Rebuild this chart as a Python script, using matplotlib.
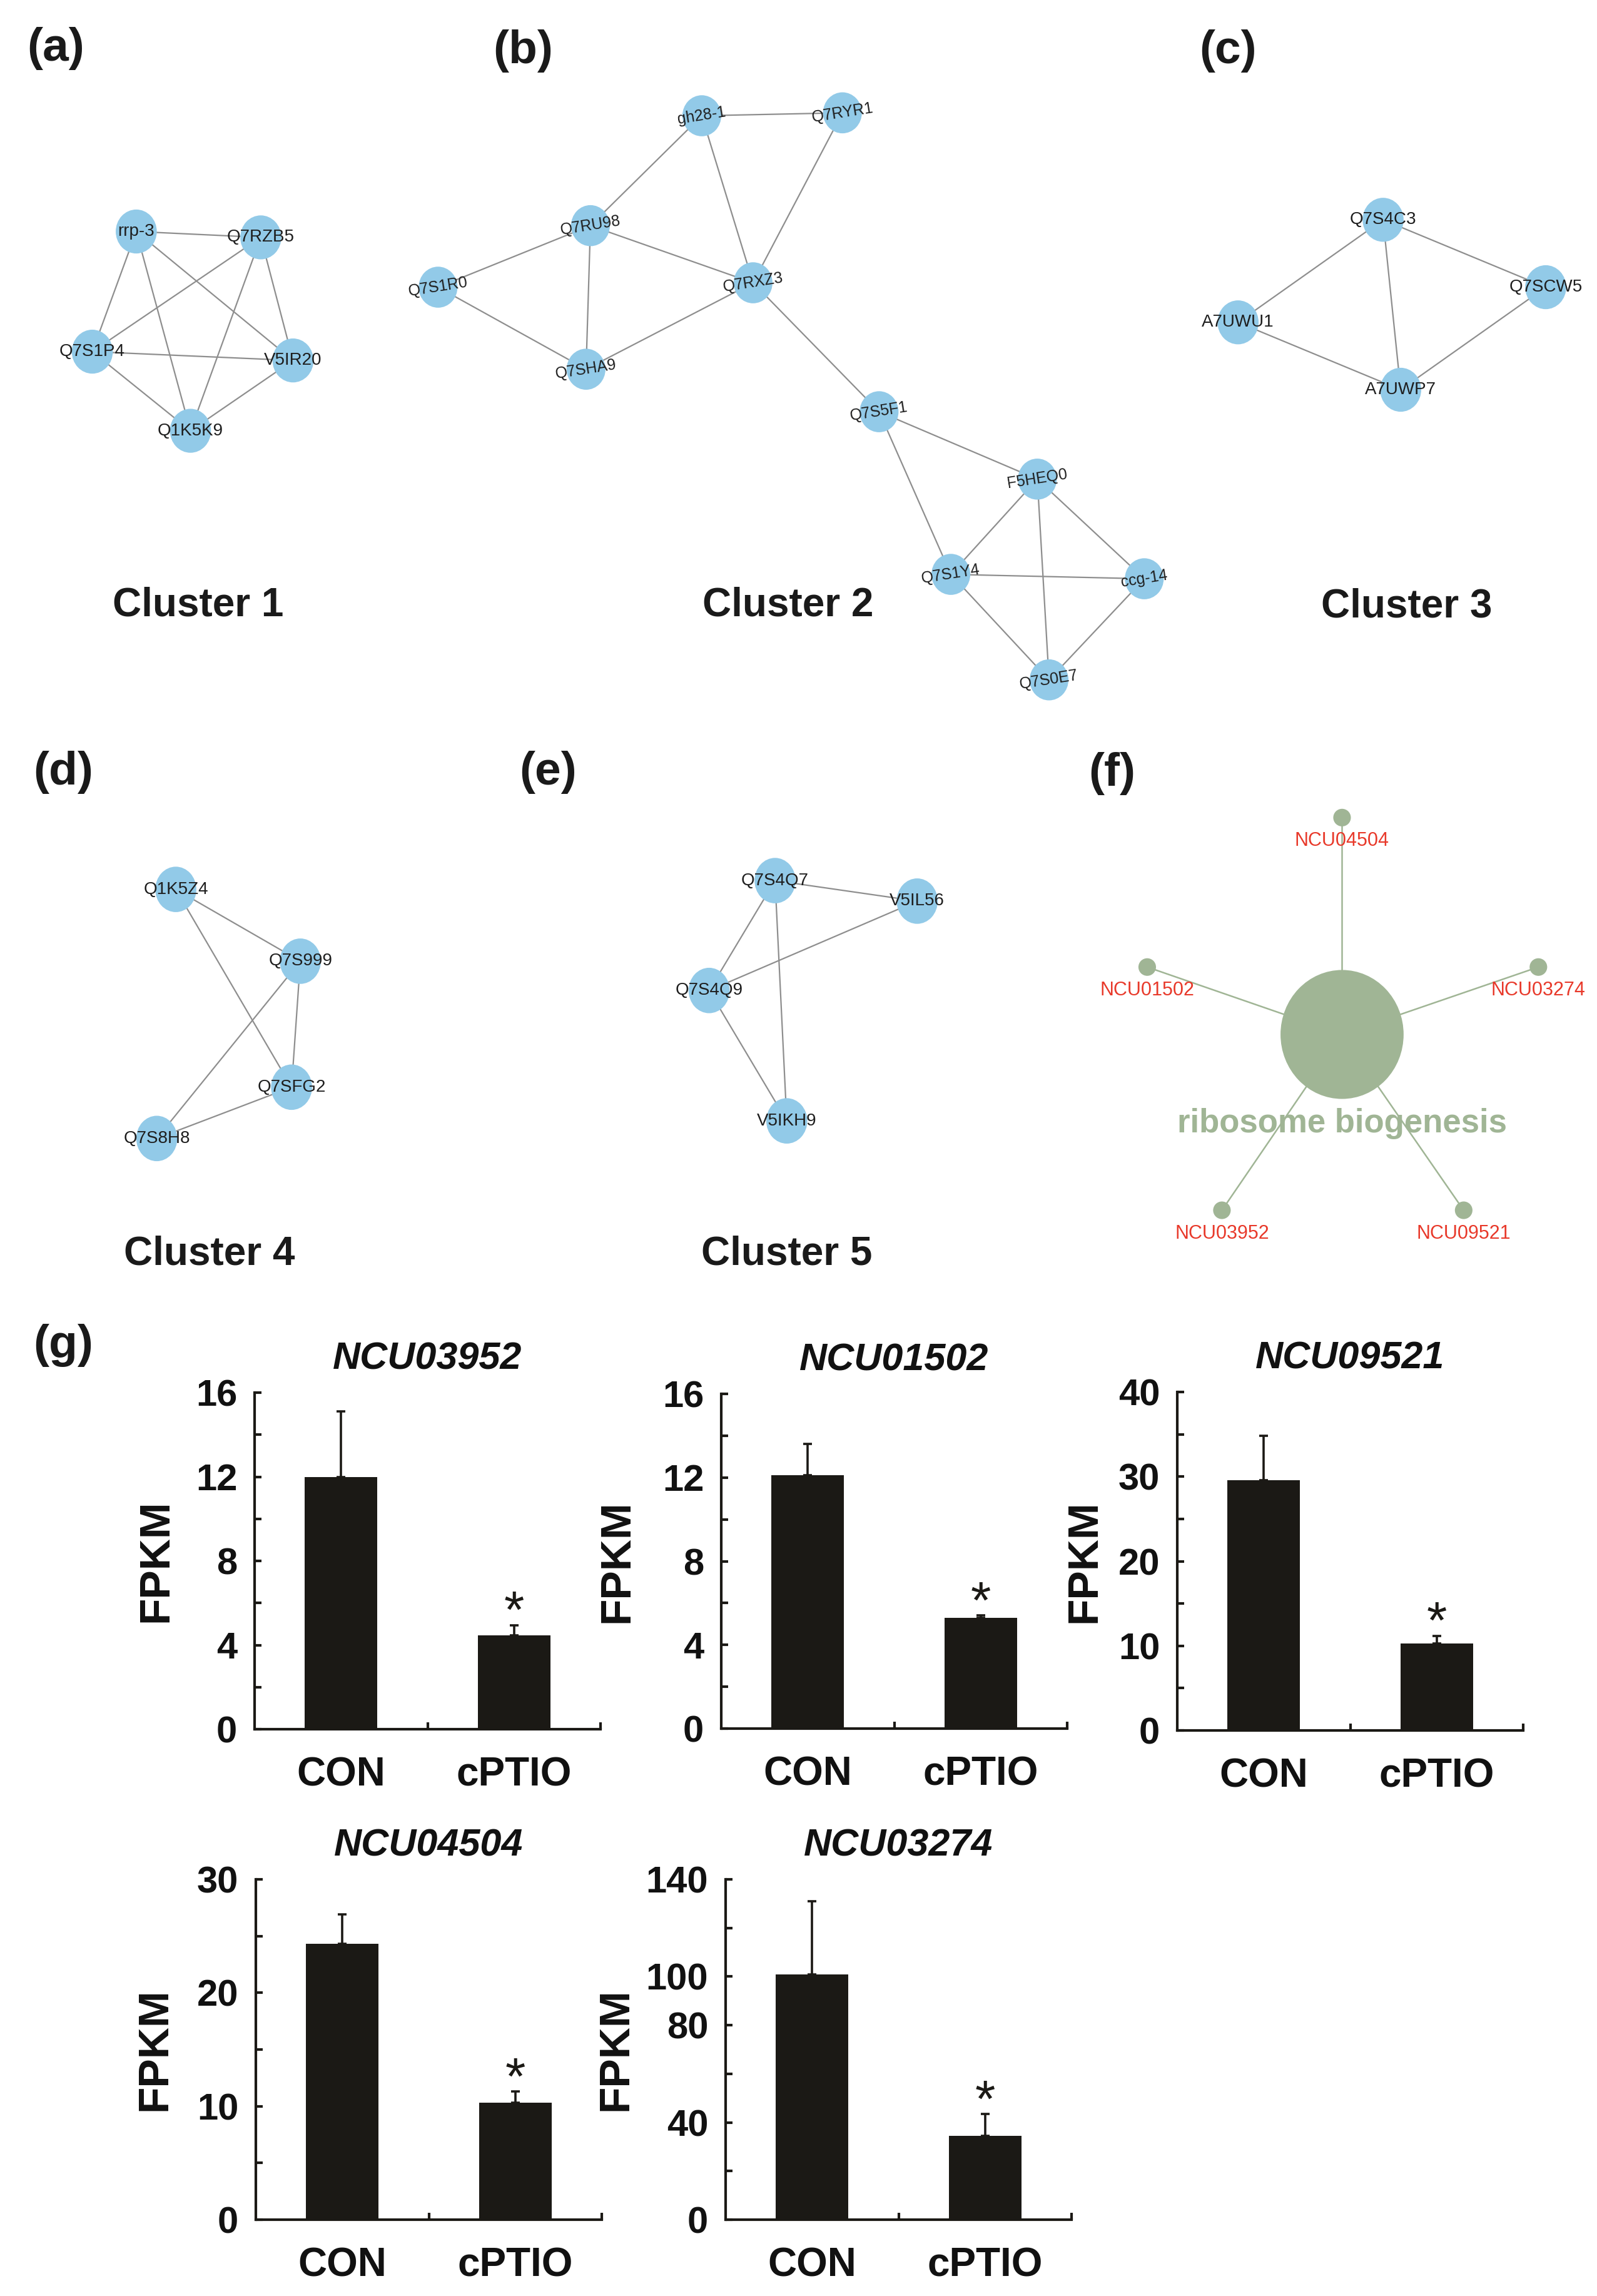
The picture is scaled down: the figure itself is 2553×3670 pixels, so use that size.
import matplotlib
matplotlib.use('Agg')
import matplotlib.pyplot as plt
from matplotlib.patches import Ellipse, Circle

plt.rcParams['font.family'] = ['Liberation Sans', 'DejaVu Sans']

# layout units: the page is 1090 x 1567 units (saved as 2553 x 3670 px)
W, H = 1090, 1567

# ---------------- network clusters (a)-(e) ----------------
c1_nodes = ['rrp-3', 'Q7RZB5', 'Q7S1P4', 'V5IR20', 'Q1K5K9']
c1_x = [93, 178, 63, 200, 130]
c1_y = [158, 162, 240, 246, 294]
c1_edges = [(0, 1), (0, 2), (0, 3), (0, 4), (1, 2), (1, 3), (1, 4), (2, 3), (2, 4), (3, 4)]

c2_nodes = ['gh28-1', 'Q7RYR1', 'Q7RU98', 'Q7S1R0', 'Q7RXZ3', 'Q7SHA9',
            'Q7S5F1', 'F5HEQ0', 'Q7S1Y4', 'ccg-14', 'Q7S0E7']
c2_x = [479, 575, 403, 299, 514, 400, 600, 708, 649, 781, 716]
c2_y = [79, 77, 154, 196, 193, 252, 281, 327, 392, 395, 464]
c2_edges = [(0, 1), (0, 2), (0, 4), (1, 4), (2, 3), (2, 4), (2, 5), (3, 5), (5, 4),
            (4, 6), (6, 7), (6, 8), (7, 8), (7, 9), (7, 10), (8, 9), (8, 10), (9, 10)]

c3_nodes = ['Q7S4C3', 'A7UWU1', 'Q7SCW5', 'A7UWP7']
c3_x = [944, 845, 1055, 956]
c3_y = [150, 220, 196, 266]
c3_edges = [(0, 1), (0, 3), (0, 2), (1, 3), (2, 3)]

c4_nodes = ['Q1K5Z4', 'Q7S999', 'Q7SFG2', 'Q7S8H8']
c4_x = [120, 205, 199, 107]
c4_y = [607, 656, 742, 777]
c4_edges = [(0, 1), (0, 2), (1, 2), (1, 3), (2, 3)]

c5_nodes = ['Q7S4Q7', 'V5IL56', 'Q7S4Q9', 'V5IKH9']
c5_x = [529, 626, 484, 537]
c5_y = [601, 615, 676, 765]
c5_edges = [(0, 1), (0, 2), (0, 3), (2, 1), (2, 3)]

cluster_names = ['Cluster 1', 'Cluster 2', 'Cluster 3', 'Cluster 4', 'Cluster 5']

# ---------------- GO term network (f) ----------------
go_term = 'ribosome biogenesis'
go_hub = (916, 706)
f_genes = ['NCU04504', 'NCU01502', 'NCU03274', 'NCU03952', 'NCU09521']
f_x = [916, 783, 1050, 834, 999]
f_y = [558, 660, 660, 826, 826]

# ---------------- FPKM bar charts (g) ----------------
genes = ['NCU03952', 'NCU01502', 'NCU09521', 'NCU04504', 'NCU03274']
groups = ['CON', 'cPTIO']
con_mean = [12.0, 12.1, 29.6, 24.3, 101.0]
con_err = [3.1, 1.5, 5.2, 2.6, 30.0]
cptio_mean = [4.45, 5.3, 10.3, 10.3, 34.5]
cptio_err = [0.5, 0.1, 0.9, 1.0, 9.0]
y_max = [16, 16, 40, 30, 140]
y_step = [2, 2, 5, 5, 20]
y_labels = [[0, 4, 8, 12, 16], [0, 4, 8, 12, 16], [0, 10, 20, 30, 40],
            [0, 10, 20, 30], [0, 40, 80, 100, 140]]

node_blue = '#92cae8'
edge_grey = '#8e8e8e'
go_green = '#a0b595'
gene_red = '#e8392a'
bar_black = '#1b1915'

fig = plt.figure(figsize=(25.53, 36.70), dpi=100)
fig.patch.set_facecolor('white')

base = fig.add_axes([0, 0, 1, 1])
base.set_xlim(0, W)
base.set_ylim(H, 0)
base.axis('off')


def draw_cluster(names, xs, ys, edges, w=28, h=30, rot=0, fs=20):
    for i, j in edges:
        base.plot([xs[i], xs[j]], [ys[i], ys[j]], color=edge_grey, lw=1.6, zorder=1)
    for n, x, y in zip(names, xs, ys):
        base.add_patch(Ellipse((x, y), w, h, color=node_blue, lw=0, zorder=2))
        base.text(x, y, n, fontsize=fs, color='#1e1e1e', ha='center', va='center',
                  rotation=rot, rotation_mode='anchor', zorder=3)


draw_cluster(c1_nodes, c1_x, c1_y, c1_edges)
draw_cluster(c2_nodes, c2_x, c2_y, c2_edges, w=26.5, h=28, rot=9, fs=18)
draw_cluster(c3_nodes, c3_x, c3_y, c3_edges)
draw_cluster(c4_nodes, c4_x, c4_y, c4_edges, h=31)
draw_cluster(c5_nodes, c5_x, c5_y, c5_edges, h=31)

cluster_pos = [(135, 413), (538, 413), (960, 414), (143, 856), (537, 856)]
for name, (x, y) in zip(cluster_names, cluster_pos):
    base.text(x, y, name, fontsize=46, fontweight='bold', color='#1a1a1a',
              ha='center', va='center')

# panel (f)
for g, x, y in zip(f_genes, f_x, f_y):
    base.plot([go_hub[0], x], [go_hub[1], y], color=go_green, lw=1.8, zorder=1)
    base.add_patch(Circle((x, y), 6, color=go_green, lw=0, zorder=2))
    base.text(x, y + 16, g, fontsize=22, color=gene_red, ha='center', va='center', zorder=3)
base.add_patch(Ellipse(go_hub, 84, 88, color=go_green, lw=0, zorder=2))
base.text(go_hub[0], 767, go_term, fontsize=38, fontweight='bold', color=go_green,
          ha='center', va='center', zorder=3)

panel_tags = ['(a)', '(b)', '(c)', '(d)', '(e)', '(f)', '(g)']
tag_pos = [(38, 33), (357, 35), (838, 35), (43, 527), (374, 527), (759, 528), (43, 918)]
for t, (x, y) in zip(panel_tags, tag_pos):
    base.text(x, y, t, fontsize=54, fontweight='bold', color='#1a1a1a',
              ha='center', va='center')

# bar chart axes, in page pixels (2553 x 3670)
ax_left = [407, 1153, 1882, 409, 1160]
ax_top = [2226, 2228, 2225, 3004, 3004]
ax_bottom = [2764, 2763, 2766, 3548, 3548]
ax_width = 553
label_x = [-0.228, -0.244, -0.21, -0.235, -0.26]

for k in range(len(genes)):
    pos = [ax_left[k] / 2553, 1 - ax_bottom[k] / 3670,
           ax_width / 2553, (ax_bottom[k] - ax_top[k]) / 3670]
    ax = fig.add_axes(pos)
    means = [con_mean[k], cptio_mean[k]]
    errs = [con_err[k], cptio_err[k]]
    xs = [0.5, 1.5]
    ax.bar(xs, means, width=0.42, color=bar_black, zorder=2)
    ax.errorbar(xs, means, yerr=[[0, 0], errs], fmt='none', ecolor=bar_black,
                elinewidth=2.6, capsize=5, capthick=2.6, zorder=3)
    ax.annotate('*', xy=(1.5, cptio_mean[k] + cptio_err[k]), xytext=(0, -3),
                textcoords='offset points', ha='center', va='baseline',
                fontsize=60, color=bar_black)
    ax.set_xlim(0, 2)
    ax.set_ylim(0, y_max[k])
    for s in ['top', 'right']:
        ax.spines[s].set_visible(False)
    for s in ['left', 'bottom']:
        ax.spines[s].set_linewidth(3)
        ax.spines[s].set_color(bar_black)
    yt = list(range(0, y_max[k] + 1, y_step[k]))
    ax.set_yticks(yt)
    ax.set_yticklabels([str(v) if v in y_labels[k] else '' for v in yt])
    ax.set_xticks([1, 2])
    ax.set_xticklabels([])
    ax.set_xticks(xs, minor=True)
    ax.set_xticklabels(groups, minor=True)
    ax.tick_params(axis='both', which='major', direction='in', length=8, width=3,
                   color=bar_black)
    ax.tick_params(axis='y', labelsize=43, pad=20)
    ax.tick_params(axis='x', which='minor', length=0, labelsize=46, pad=31)
    for lab in ax.get_yticklabels() + ax.get_xticklabels(minor=True):
        lab.set_fontweight('bold')
        lab.set_color('#111111')
    ax.set_ylabel('FPKM', fontsize=50, fontweight='bold', color='#111111')
    ax.yaxis.set_label_coords(label_x[k], 0.5)
    ax.set_title(genes[k], fontsize=44, fontweight='bold', fontstyle='italic',
                 color='#111111', pad=27)
    ax.patch.set_alpha(0)

fig.savefig('out.png', dpi=100, facecolor='white')
